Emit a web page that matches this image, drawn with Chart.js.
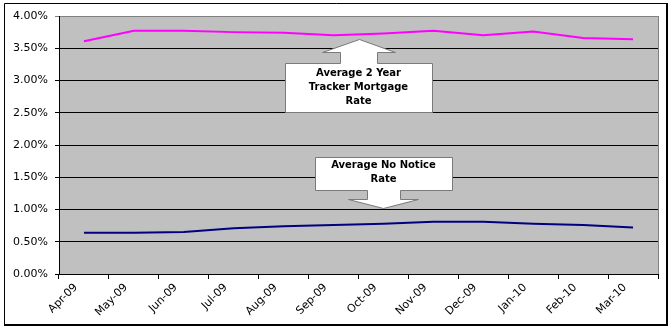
<!DOCTYPE html>
<html>
<head>
<meta charset="utf-8">
<script src="https://cdn.jsdelivr.net/npm/chart.js@4"></script>
<style>
  html, body { margin: 0; padding: 0; background: #fff; }
  canvas { display: block; }
</style>
</head>
<body>
<canvas id="rates" width="672" height="330"></canvas>
<script>
// ── Data ────────────────────────────────────────────────────
const months    = ['Apr-09', 'May-09', 'Jun-09', 'Jul-09', 'Aug-09', 'Sep-09',
                   'Oct-09', 'Nov-09', 'Dec-09', 'Jan-10', 'Feb-10', 'Mar-10'];
const trackerRate  = [3.61, 3.77, 3.77, 3.75, 3.74, 3.70, 3.73, 3.77, 3.70, 3.76, 3.66, 3.64];
const noNoticeRate = [0.64, 0.64, 0.65, 0.71, 0.74, 0.76, 0.78, 0.81, 0.81, 0.78, 0.76, 0.72];
const yTicks       = [0, 0.5, 1, 1.5, 2, 2.5, 3, 3.5, 4];

// callouts: text lines + where the arrow points (category index, % value)
const callouts = [
  { lines: ['Average 2 Year', 'Tracker Mortgage', 'Rate'], at: [5.5, 3.64], dir: 'up' },
  { lines: ['Average No Notice', 'Rate'],                  at: [6.0, 1.02], dir: 'down' }
];

// ── Plugins ─────────────────────────────────────────────────
const frame = {
  id: 'frame',
  beforeDraw(chart) {
    const { ctx, chartArea: a } = chart;
    ctx.save();
    ctx.fillStyle = '#fff';
    ctx.fillRect(0, 0, chart.width, chart.height);
    ctx.fillStyle = '#c0c0c0';
    ctx.fillRect(a.left, a.top, a.right - a.left, a.bottom - a.top);
    ctx.restore();
  },
  afterDraw(chart) {
    const { ctx, chartArea: a } = chart;
    ctx.save();
    // plot border (right side)
    ctx.strokeStyle = '#808080';
    ctx.lineWidth = 1;
    ctx.beginPath();
    ctx.moveTo(a.right + 0.5, a.top);
    ctx.lineTo(a.right + 0.5, a.bottom);
    ctx.stroke();
    // outer chart frame
    ctx.strokeStyle = '#000';
    ctx.beginPath();
    ctx.moveTo(4.5, 326);
    ctx.lineTo(4.5, 3.5);
    ctx.lineTo(668, 3.5);
    ctx.stroke();
    ctx.lineWidth = 2;
    ctx.beginPath();
    ctx.moveTo(667, 3);
    ctx.lineTo(667, 325);
    ctx.lineTo(4, 325);
    ctx.stroke();
    ctx.restore();
  }
};

const arrowCallouts = {
  id: 'arrowCallouts',
  afterDatasetsDraw(chart) {
    const { ctx, scales: { x, y } } = chart;
    ctx.save();
    callouts.forEach(c => {
      const i0 = Math.floor(c.at[0]);
      const tx = x.getPixelForValue(i0) + (x.getPixelForValue(i0 + 1) - x.getPixelForValue(i0)) * (c.at[0] - i0);
      const ty = y.getPixelForValue(c.at[1]);
      let pts, boxTop, boxHalf;
      if (c.dir === 'up') {
        boxHalf = 73.5;
        const head = ty + 13, top = ty + 24, bot = ty + 73;
        boxTop = top;
        pts = [[tx, ty], [tx + 36.5, head], [tx + 18.5, head], [tx + 18.5, top],
               [tx + boxHalf, top], [tx + boxHalf, bot], [tx - boxHalf, bot],
               [tx - boxHalf, top], [tx - 18.5, top], [tx - 18.5, head], [tx - 36.5, head]];
      } else {
        boxHalf = 68.5;
        const head = ty - 9, bot = ty - 18, top = ty - 51;
        boxTop = top;
        pts = [[tx, ty], [tx + 35, head], [tx + 16.5, head], [tx + 16.5, bot],
               [tx + boxHalf, bot], [tx + boxHalf, top], [tx - boxHalf, top],
               [tx - boxHalf, bot], [tx - 16.5, bot], [tx - 16.5, head], [tx - 35, head]];
      }
      ctx.beginPath();
      pts.forEach((p, k) => k ? ctx.lineTo(Math.round(p[0]) + 0.5, Math.round(p[1]) + 0.5)
                              : ctx.moveTo(Math.round(p[0]) + 0.5, Math.round(p[1]) + 0.5));
      ctx.closePath();
      ctx.fillStyle = '#fff';
      ctx.fill();
      ctx.strokeStyle = '#7a7a7a';
      ctx.lineWidth = 1;
      ctx.stroke();

      ctx.fillStyle = '#000';
      ctx.font = 'bold 10px "DejaVu Sans"';
      ctx.textAlign = 'center';
      ctx.textBaseline = 'middle';
      const first = c.dir === 'up' ? 10 : 8;
      c.lines.forEach((t, k) => ctx.fillText(t, tx, boxTop + first + k * 14));
    });
    ctx.restore();
  }
};

// ── Chart ───────────────────────────────────────────────────
new Chart(document.getElementById('rates'), {
  type: 'line',
  data: {
    labels: months,
    datasets: [{
      label: 'Average 2 Year Tracker Mortgage Rate',
      data: trackerRate,
      borderColor: '#ff00ff',
      borderWidth: 2,
      pointRadius: 0,
      tension: 0
    }, {
      label: 'Average No Notice Rate',
      data: noNoticeRate,
      borderColor: '#000080',
      borderWidth: 2,
      pointRadius: 0,
      tension: 0
    }]
  },
  options: {
    responsive: false,
    animation: false,
    layout: { padding: { left: 4, top: 16, right: 14, bottom: 0 } },
    plugins: {
      legend: { display: false },
      tooltip: { enabled: false }
    },
    scales: {
      x: {
        offset: true,
        afterFit: s => { s.height = 56; },
        grid: { offset: true, drawOnChartArea: false, drawTicks: true, tickLength: 5, color: '#000' },
        border: { color: '#000', width: 1 },
        ticks: {
          color: '#000',
          minRotation: 45,
          maxRotation: 45,
          autoSkip: false,
          padding: 2,
          labelOffset: -8,
          font: { family: 'DejaVu Sans', size: 11 }
        }
      },
      y: {
        min: 0,
        max: 4,
        afterFit: s => { s.width = 55; },
        afterBuildTicks: s => { s.ticks = yTicks.map(v => ({ value: v })); },
        grid: {
          color: c => (c.tick && c.tick.value === 4) ? '#808080' : '#000',
          tickLength: 4
        },
        border: { color: '#000', width: 1 },
        ticks: {
          color: '#000',
          padding: 7,
          font: { family: 'DejaVu Sans', size: 11 },
          callback: v => v.toFixed(2) + '%'
        }
      }
    }
  },
  plugins: [frame, arrowCallouts]
});
</script>
</body>
</html>
